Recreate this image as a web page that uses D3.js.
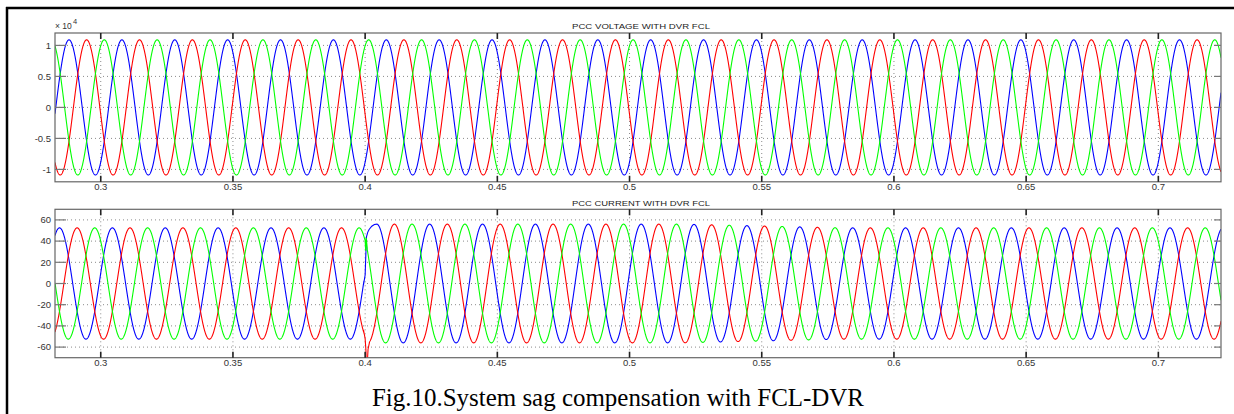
<!DOCTYPE html>
<html><head><meta charset="utf-8">
<script src="https://cdn.jsdelivr.net/npm/d3@7"></script>
<style>
body{margin:0;background:#fff;}
svg{display:block;}
text{font-family:"Liberation Sans",Arial,sans-serif;}
</style>
</head><body>
<svg id="c" width="1234" height="414"></svg>
<script>
// ---------- data ----------
const timeDomain = [0.2827, 0.7237];
const timeTicks = [0.3, 0.35, 0.4, 0.45, 0.5, 0.55, 0.6, 0.65, 0.7];
const timeTickLabels = ["0.3", "0.35", "0.4", "0.45", "0.5", "0.55", "0.6", "0.65", "0.7"];
const voltTicks = [-1, -0.5, 0, 0.5, 1];
const voltTickLabels = ["-1", "-0.5", "0", "0.5", "1"];
const currTicks = [-60, -40, -20, 0, 20, 40, 60];
const currTickLabels = ["-60", "-40", "-20", "0", "20", "40", "60"];
const phaseNames = ["A", "B", "C"];
const phaseColors = ["#0000ff", "#ff0000", "#00ff00"];
const phaseLagDeg = [0, 120, 240];
const freqHz = 50;
const voltPeak = 1.09;          // x 10^4
const voltPeakTimeA = 0.308;    // time of a phase-A voltage peak
const currPeakTimeA = 0.3044;   // time of a phase-A current peak
const currEnvTime = [0.2827, 0.4, 0.4001, 0.52, 0.58, 0.7237];
const currEnvPeak = [52.5, 52.5, 56, 56, 52.5, 52.5];
// fault transient at t = 0.4 s (current), per phase: [time, value]
const currTransientA = [[0.3995, 0.5], [0.4000, 8], [0.4003, 30], [0.4005, 44], [0.4010, 48.5], [0.4015, 51], [0.4025, 54], [0.4035, 55.7], [0.4045, 56]];
const currTransientB = [[0.3995, -45.5], [0.4000, -52], [0.4003, -63], [0.4005, -88], [0.4008, -76], [0.4011, -62], [0.4016, -56]];
const currTransientC = [[0.3995, 45], [0.4000, 40.5], [0.4002, 31], [0.4004, 43], [0.4008, 33.5]];
const currTransients = [currTransientA, currTransientB, currTransientC];
const voltTitle = "PCC VOLTAGE WITH DVR FCL";
const currTitle = "PCC CURRENT WITH DVR FCL";
const caption = "Fig.10.System sag compensation with FCL-DVR";

// ---------- drawing ----------
const svg = d3.select("#c");
svg.append("rect").attr("width", 1234).attr("height", 414).attr("fill", "#fff");
// outer frame (left & top)
svg.append("line").attr("x1", 7).attr("x2", 7).attr("y1", 7).attr("y2", 414).attr("stroke", "#000").attr("stroke-width", 2.5);
svg.append("line").attr("x1", 6).attr("x2", 1234).attr("y1", 8).attr("y2", 8).attr("stroke", "#000").attr("stroke-width", 2.5);

const X0 = 55, X1 = 1221;
const x = d3.scaleLinear().domain(timeDomain).range([X0, X1]);
const omega = 2 * Math.PI * freqHz;
const samples = d3.range(timeDomain[0], timeDomain[1] + 0.00005, 0.00005);

function panel(id, y0, y1, yDomain, yTicks, yLabels, title, seriesFn) {
  const y = d3.scaleLinear().domain(yDomain).range([y1, y0]);
  const g = svg.append("g");
  const clipId = "clip" + id;
  svg.append("clipPath").attr("id", clipId).append("rect")
    .attr("x", X0).attr("y", y0).attr("width", X1 - X0).attr("height", y1 - y0);
  // grid
  g.selectAll(".hg").data(yTicks).join("line")
    .attr("x1", X0).attr("x2", X1).attr("y1", d => y(d)).attr("y2", d => y(d))
    .attr("stroke", "#8a8a8a").attr("stroke-width", 1).attr("stroke-dasharray", "1,3");
  g.selectAll(".vg").data(timeTicks).join("line")
    .attr("x1", d => x(d)).attr("x2", d => x(d)).attr("y1", y0).attr("y2", y1)
    .attr("stroke", "#8a8a8a").attr("stroke-width", 1).attr("stroke-dasharray", "1,3");
  // series
  const line = d3.line().x(d => x(d[0])).y(d => y(d[1]));
  const sg = g.append("g").attr("clip-path", `url(#${clipId})`);
  phaseNames.forEach((p, i) => {
    sg.append("path").datum(seriesFn(i)).attr("d", line)
      .attr("fill", "none").attr("stroke", phaseColors[i]).attr("stroke-width", 1.1);
  });
  // box
  g.append("rect").attr("x", X0).attr("y", y0).attr("width", X1 - X0).attr("height", y1 - y0)
    .attr("fill", "none").attr("stroke", "#666").attr("stroke-width", 1.2);
  // y ticks
  g.selectAll(".yt").data(yTicks).join("line")
    .attr("x1", X0).attr("x2", X0 + 11).attr("y1", d => y(d)).attr("y2", d => y(d))
    .attr("stroke", "#777").attr("stroke-width", 1.2);
  g.selectAll(".yt2").data(yTicks).join("line")
    .attr("x1", X1 - 7).attr("x2", X1).attr("y1", d => y(d)).attr("y2", d => y(d))
    .attr("stroke", "#777").attr("stroke-width", 1.2);
  // x ticks
  g.selectAll(".xt").data(timeTicks).join("line")
    .attr("x1", d => x(d)).attr("x2", d => x(d)).attr("y1", y0).attr("y2", y0 + 6)
    .attr("stroke", "#222").attr("stroke-width", 1.6);
  g.selectAll(".xt2").data(timeTicks).join("line")
    .attr("x1", d => x(d)).attr("x2", d => x(d)).attr("y1", y1 - 6).attr("y2", y1)
    .attr("stroke", "#222").attr("stroke-width", 1.6);
  // labels
  g.selectAll(".yl").data(yTicks).join("text")
    .attr("x", 51).attr("y", d => y(d) + 3.3).attr("text-anchor", "end")
    .attr("font-size", 9.5).attr("fill", "#333").text((d, i) => yLabels[i]);
  g.selectAll(".xl").data(timeTicks).join("text")
    .attr("x", d => x(d)).attr("y", y1 + 8.5).attr("text-anchor", "middle")
    .attr("font-size", 9.5).attr("fill", "#333").text((d, i) => timeTickLabels[i]);
  g.append("text").attr("x", 641).attr("y", y0 - 3.6).attr("text-anchor", "middle")
    .attr("font-size", 7.6).attr("fill", "#222").attr("textLength", 138)
    .attr("lengthAdjust", "spacingAndGlyphs").text(title);
  return y;
}

// voltage panel
panel("v", 33, 181.8, [-1.2, 1.2], voltTicks, voltTickLabels, voltTitle, i => {
  const lag = phaseLagDeg[i] / 360 / freqHz;
  return samples.map(t => [t, voltPeak * Math.cos(omega * (t - voltPeakTimeA - lag))]);
});
svg.append("text").attr("x", 55).attr("y", 29).attr("font-size", 8.5).attr("fill", "#333").text("× 10");
svg.append("text").attr("x", 73).attr("y", 23.5).attr("font-size", 7.5).attr("fill", "#333").text("4");

// current panel
const env = d3.scaleLinear().domain(currEnvTime).range(currEnvPeak).clamp(true);
panel("i", 209.3, 357.7, [-70, 70], currTicks, currTickLabels, currTitle, i => {
  const lag = phaseLagDeg[i] / 360 / freqHz;
  const tr = currTransients[i];
  const ta = tr[0][0], tb = tr[tr.length - 1][0];
  const pts = [];
  samples.forEach(t => { if (t < ta) pts.push([t, env(t) * Math.cos(omega * (t - currPeakTimeA - lag))]); });
  tr.forEach(d => pts.push(d));
  samples.forEach(t => { if (t > tb) pts.push([t, env(t) * Math.cos(omega * (t - currPeakTimeA - lag))]); });
  return pts;
});

// caption
svg.append("text").attr("x", 372).attr("y", 405.5)
  .style("font-family", '"Liberation Serif","Times New Roman",serif')
  .attr("font-size", 25).attr("fill", "#000")
  .attr("textLength", 492).attr("lengthAdjust", "spacingAndGlyphs").text(caption);
</script>
</body></html>
